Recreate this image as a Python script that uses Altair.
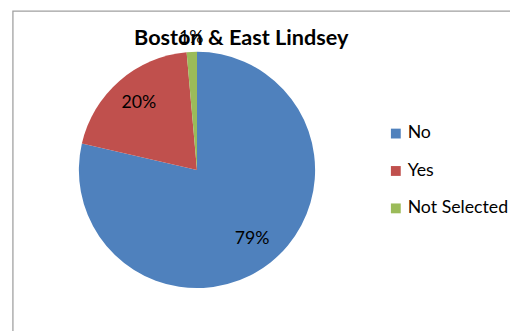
import altair as alt
import pandas as pd

categories = ["No", "Yes", "Not Selected"]
shares = [78.6, 20.0, 1.4]
labels = ["79%", "20%", "1%"]
colors = ["#4F81BD", "#C0504D", "#9BBB59"]

df = pd.DataFrame({
    "category": categories,
    "share": shares,
    "label": labels,
    "idx": list(range(len(categories))),
})

CX, CY, R = 192, 162, 120

pie = alt.Chart(df).mark_arc(outerRadius=R, strokeWidth=0).encode(
    theta=alt.Theta("share:Q", stack=True),
    order=alt.Order("idx:Q"),
    x=alt.value(CX),
    y=alt.value(CY),
    color=alt.Color(
        "category:N",
        scale=alt.Scale(domain=categories, range=colors),
        legend=alt.Legend(
            title=None,
            orient="none",
            legendX=385,
            legendY=116,
            symbolType="square",
            symbolSize=100,
            symbolStrokeWidth=0,
            labelFont="Lato",
            labelFontSize=18,
            labelColor="#000000",
            rowPadding=20,
            labelOffset=3,
        ),
    ),
)

label_base = alt.Chart(df).transform_window(
    cum="sum(share)", sort=[alt.SortField("idx")], frame=[None, 0]
).transform_calculate(
    mid="datum.cum - datum.share / 2"
).encode(
    theta=alt.Theta("mid:Q", stack=None),
    x=alt.value(CX),
    y=alt.value(CY),
    text="label:N",
)

text_in = label_base.transform_filter(alt.datum.share >= 5).mark_text(
    font="Lato", fontSize=18, color="#000000", radius=90
)
text_out = label_base.transform_filter(alt.datum.share < 5).mark_text(
    font="Lato", fontSize=18, color="#000000", radius=134
)

frame = alt.Chart(pd.DataFrame({"a": [0]})).mark_rect(
    fill=None, stroke="#a0a0a0", strokeWidth=1.3
).encode(
    x=alt.value(5), y=alt.value(0.5), x2=alt.value(530), y2=alt.value(340)
)

chart = alt.layer(frame, pie, text_in, text_out).properties(
    width=510,
    height=323,
    autosize="none",
    padding=0,
    background="white",
    title=alt.Title(
        "Boston & East Lindsey",
        font="Lato",
        fontSize=22,
        fontWeight="bold",
        color="#000000",
        anchor="middle",
        frame="group",
        dx=-18,
        dy=44,
    ),
).configure_view(stroke=None)

chart.save("out.html", embed_options={"renderer": "svg", "actions": False})
